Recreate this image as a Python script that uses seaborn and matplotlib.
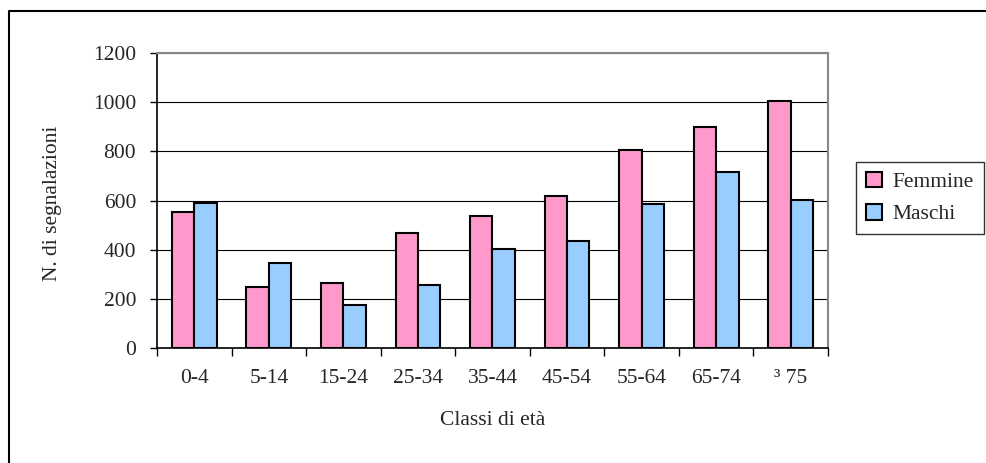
import pandas as pd
import matplotlib.pyplot as plt
from matplotlib.lines import Line2D
import seaborn as sns

# data
classi = ["0-4", "5-14", "15-24", "25-34", "35-44", "45-54", "55-64", "65-74", "³ 75"]
femmine = [555, 247, 263, 467, 537, 618, 804, 900, 1006]
maschi = [588, 345, 175, 255, 403, 435, 587, 716, 602]
serie = ["Femmine", "Maschi"]
colori = {"Femmine": "#FF99CC", "Maschi": "#99CCFF"}

df = pd.DataFrame({
    "Classe": classi * 2,
    "Sesso": ["Femmine"] * len(classi) + ["Maschi"] * len(classi),
    "N": femmine + maschi,
})

sns.set_style("white")
plt.rcParams["font.family"] = ["Liberation Serif", "DejaVu Serif"]
fs = 15.5

fig = plt.figure(figsize=(9.87, 4.63), dpi=100)
ax = fig.add_axes([157 / 987, 1 - 348 / 463, 671 / 987, 295 / 463])

sns.barplot(data=df, x="Classe", y="N", hue="Sesso", hue_order=serie,
            palette=colori, width=0.6, gap=0, edgecolor="black",
            linewidth=1.5, saturation=1, ax=ax, legend=False)

ax.set_ylim(0, 1200)
ax.set_xlim(-0.5, len(classi) - 0.5)
ax.set_yticks(range(0, 1201, 200))
ax.yaxis.grid(True, color="black", linewidth=0.8)
ax.set_axisbelow(True)

ax.set_xticks(range(len(classi)))
ax.set_xticklabels(classi)
ax.set_xticks([i - 0.5 for i in range(len(classi) + 1)], minor=True)
ax.tick_params(axis="x", which="major", length=0, pad=15, labelsize=fs)
ax.tick_params(axis="x", which="minor", length=6, width=1, color="black", direction="out", bottom=True)
ax.tick_params(axis="y", length=5, width=1, color="black", direction="out", left=True, pad=10, labelsize=fs)

for s in ["left", "bottom"]:
    ax.spines[s].set_color("black")
    ax.spines[s].set_linewidth(1.2)
for s in ["top", "right"]:
    ax.spines[s].set_color("#888888")
    ax.spines[s].set_linewidth(1.5)

ax.set_xlabel("Classi di età", fontsize=fs)
ax.xaxis.set_label_coords(0.5, -0.215)
ax.set_ylabel("N. di segnalazioni", fontsize=fs)
ax.yaxis.set_label_coords(-0.142, 0.49)

handles = [plt.Rectangle((0, 0), 1, 1, facecolor=colori[s], edgecolor="black", linewidth=1.5) for s in serie]
leg = fig.legend(handles, serie, loc="upper left", bbox_to_anchor=(856 / 987, 1 - 162 / 463),
                 fontsize=fs, frameon=True, fancybox=False, handlelength=0.75, handleheight=0.75,
                 handletextpad=0.5, borderpad=0.45, labelspacing=0.55, borderaxespad=0)
leg.get_frame().set_edgecolor("black")
leg.get_frame().set_linewidth(1)

# outer chart border (only left and top visible in the reference)
fig.add_artist(Line2D([9 / 987, 9 / 987, 1.0], [0.0, 1 - 11 / 463, 1 - 11 / 463],
                      color="black", linewidth=1.5, transform=fig.transFigure))

fig.savefig("out.png", dpi=100)
